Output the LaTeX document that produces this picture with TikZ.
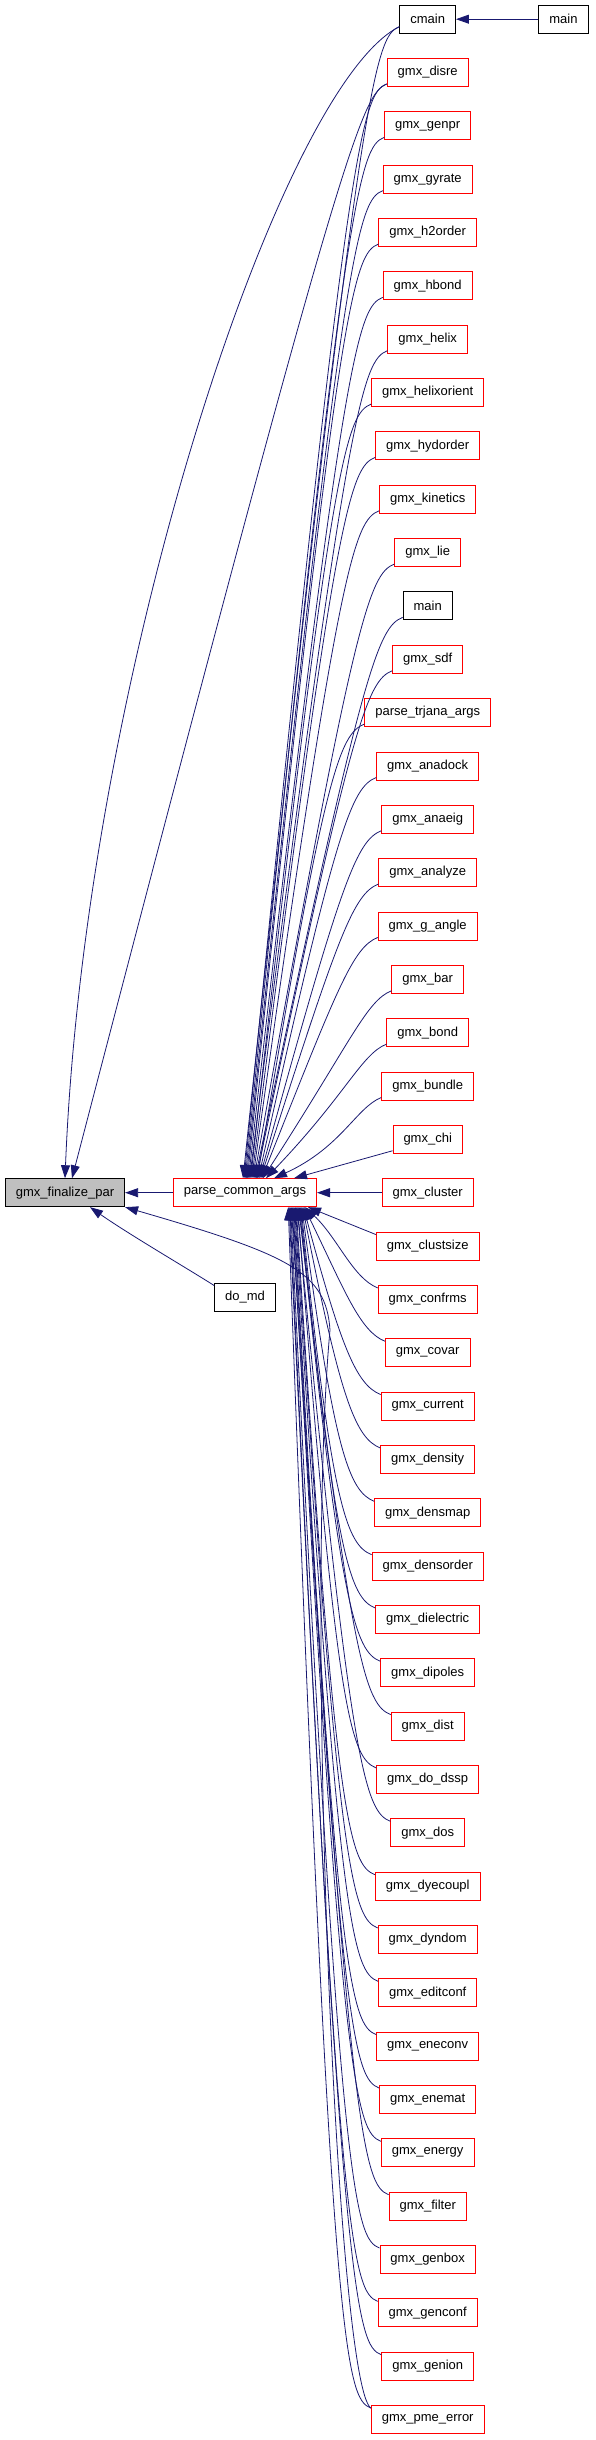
\documentclass[tikz,border=0pt]{standalone}
\usepackage{fontspec}
\setmainfont{Liberation Sans}
\usepackage{tikz}
\usetikzlibrary{arrows.meta, calc}
\definecolor{linkblue}{HTML}{191970}
\definecolor{boxgray}{HTML}{BFBFBF}

\begin{document}
\begin{tikzpicture}[x=1pt, y=-1pt,
  box/.style={draw=black, line width=0.9pt, minimum height=28pt, inner xsep=10.5pt, inner ysep=0pt, font=\fontsize{13}{15}\selectfont},
  redbox/.style={box, draw=red},
  link/.style={draw=linkblue, line width=0.8pt, -{Triangle[length=13pt, width=9pt]}}]
  \useasboundingbox (0,0) rectangle (595,2440);

  % Left part: the function and its direct callers
  \node[box, fill=boxgray] (finalize) at (65,1192.7) {gmx\_finalize\_par};
  \node[redbox] (pca) at (245,1192.7) {parse\_common\_args};
  \node[box] (domd) at (245,1297) {do\_md};
  \node[box] (mainA) at (563.5,19.2) {main};

  % Right column: callers of parse_common_args
  \node[box] (cmain) at (427.7,19.2) {cmain};
  \node[redbox] (disre) at (427.7,72.5) {gmx\_disre};
  \node[redbox] (genpr) at (427.7,125.9) {gmx\_genpr};
  \node[redbox] (gyrate) at (427.7,179.2) {gmx\_gyrate};
  \node[redbox] (htwoorder) at (427.7,232.6) {gmx\_h2order};
  \node[redbox] (hbond) at (427.7,285.9) {gmx\_hbond};
  \node[redbox] (helix) at (427.7,339.2) {gmx\_helix};
  \node[redbox] (helixorient) at (427.7,392.6) {gmx\_helixorient};
  \node[redbox] (hydorder) at (427.7,445.9) {gmx\_hydorder};
  \node[redbox] (kinetics) at (427.7,499.3) {gmx\_kinetics};
  \node[redbox] (lie) at (427.7,552.6) {gmx\_lie};
  \node[box] (mainB) at (427.7,605.9) {main};
  \node[redbox] (sdf) at (427.7,659.3) {gmx\_sdf};
  \node[redbox] (trjana) at (427.7,712.6) {parse\_trjana\_args};
  \node[redbox] (anadock) at (427.7,766.0) {gmx\_anadock};
  \node[redbox] (anaeig) at (427.7,819.3) {gmx\_anaeig};
  \node[redbox] (analyze) at (427.7,872.6) {gmx\_analyze};
  \node[redbox] (gangle) at (427.7,926.0) {gmx\_g\_angle};
  \node[redbox] (bar) at (427.7,979.3) {gmx\_bar};
  \node[redbox] (bond) at (427.7,1032.7) {gmx\_bond};
  \node[redbox] (bundle) at (427.7,1086.0) {gmx\_bundle};
  \node[redbox] (chi) at (427.7,1139.3) {gmx\_chi};
  \node[redbox] (cluster) at (427.7,1192.7) {gmx\_cluster};
  \node[redbox] (clustsize) at (427.7,1246.0) {gmx\_clustsize};
  \node[redbox] (confrms) at (427.7,1299.4) {gmx\_confrms};
  \node[redbox] (covar) at (427.7,1352.7) {gmx\_covar};
  \node[redbox] (current) at (427.7,1406.0) {gmx\_current};
  \node[redbox] (density) at (427.7,1459.4) {gmx\_density};
  \node[redbox] (densmap) at (427.7,1512.7) {gmx\_densmap};
  \node[redbox] (densorder) at (427.7,1566.1) {gmx\_densorder};
  \node[redbox] (dielectric) at (427.7,1619.4) {gmx\_dielectric};
  \node[redbox] (dipoles) at (427.7,1672.7) {gmx\_dipoles};
  \node[redbox] (dist) at (427.7,1726.1) {gmx\_dist};
  \node[redbox] (dodssp) at (427.7,1779.4) {gmx\_do\_dssp};
  \node[redbox] (dos) at (427.7,1832.8) {gmx\_dos};
  \node[redbox] (dyecoupl) at (427.7,1886.1) {gmx\_dyecoupl};
  \node[redbox] (dyndom) at (427.7,1939.4) {gmx\_dyndom};
  \node[redbox] (editconf) at (427.7,1992.8) {gmx\_editconf};
  \node[redbox] (eneconv) at (427.7,2046.1) {gmx\_eneconv};
  \node[redbox] (enemat) at (427.7,2099.5) {gmx\_enemat};
  \node[redbox] (energy) at (427.7,2152.8) {gmx\_energy};
  \node[redbox] (filter) at (427.7,2206.1) {gmx\_filter};
  \node[redbox] (genbox) at (427.7,2259.5) {gmx\_genbox};
  \node[redbox] (genconf) at (427.7,2312.8) {gmx\_genconf};
  \node[redbox] (genion) at (427.7,2366.2) {gmx\_genion};
  \node[redbox] (pmeerror) at (427.7,2419.5) {gmx\_pme\_error};

  % Straight calls
  \draw[link] (mainA) -- (cmain);
  \draw[link] (pca) -- (finalize);
  \draw[link] (cluster) -- (pca);
  \draw[link] ([yshift=3pt]chi.south west) -- ([xshift=49pt]pca.north);
  \draw[link] ([yshift=-3pt]clustsize.north west) -- ([xshift=63pt]pca.south);

  % Direct calls of gmx_finalize_par
  \draw[link] ([yshift=7pt]cmain.south west) .. controls +(-120,60) and +(20,-500) .. (finalize.north);
  \draw[link] ([yshift=3pt]disre.south west) .. controls +(-25,10) and ($(disre.south west)+(-45,57)$) .. ([xshift=7pt]finalize.north);
  \draw[link] ([yshift=-3pt]domd.north west) .. controls (190,1270) and (130,1235) .. ([xshift=25pt]finalize.south);
  \draw[link] ([yshift=-3pt]pmeerror.north west) .. controls +(-35,-25) and (305,1600) .. (330,1330)
    .. controls (326,1272) and (290,1255) .. (finalize.south east);

  % Callers above parse_common_args
  \draw[link] ([yshift=7pt]cmain.south west) .. controls +(-25,10) and ($(cmain.south west)+(-40,43)$) .. ([xshift=-2pt]pca.north);
  \foreach \fn/\dx in {disre/-0.9, genpr/0.2, gyrate/1.3, htwoorder/2.4, hbond/3.5, helix/4.6,
      helixorient/5.7, hydorder/6.8, kinetics/7.9, lie/9, mainB/10.1, sdf/11.2, trjana/12.3,
      anadock/13.4, anaeig/14.5, analyze/15.6, gangle/16.7, bar/17.8, bond/21, bundle/29}
    \draw[link] ([yshift=3pt]\fn.south west) .. controls +(-25,10) and ($(\fn.south west)+(-40,47)$) .. ([xshift=\dx]pca.north);

  % Callers below parse_common_args
  \foreach \fn/\dx in {confrms/60, covar/59.2, current/58.4, density/57.6, densmap/56.8, densorder/56,
      dielectric/55.2, dipoles/54.4, dist/53.6, dodssp/52.8, dos/52, dyecoupl/51.2, dyndom/50.4,
      editconf/49.6, eneconv/48.8, enemat/48, energy/47.2, filter/46.4, genbox/45.6, genconf/44.8,
      genion/44, pmeerror/43.2}
    \draw[link] ([yshift=-3pt]\fn.north west) .. controls +(-25,-10) and ($(\fn.north west)+(-40,-47)$) .. ([xshift=\dx]pca.south);
\end{tikzpicture}
\end{document}
